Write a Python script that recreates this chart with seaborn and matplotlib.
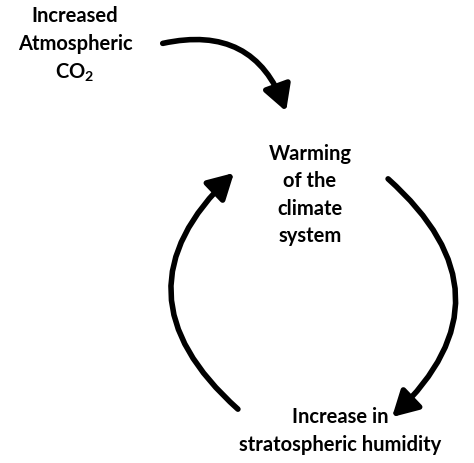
import matplotlib
matplotlib.use("Agg")
import matplotlib.pyplot as plt
import seaborn as sns
from matplotlib.patches import FancyArrowPatch

sns.set_theme(style="white")
plt.rcParams["font.family"] = ["Lato", "DejaVu Sans"]
plt.rcParams["mathtext.default"] = "regular"

# node labels and their anchor points (pixel space of the 474x464 canvas)
labels = ["Increased\nAtmospheric\nCO$_2$", "Warming\nof the\nclimate\nsystem", "Increase in\nstratospheric humidity"]
label_x = [75, 310, 340]
label_y = [45, 195, 431]

# arrows: start, end, curvature
arrow_start = [(160, 45), (386, 178), (240, 412)]
arrow_end = [(287, 115), (390, 420), (236, 172)]
arrow_rad = [-0.45, -0.55, -0.55]

fig = plt.figure(figsize=(4.74, 4.64), dpi=100)
ax = fig.add_axes([0, 0, 1, 1])
ax.set_xlim(0, 474)
ax.set_ylim(464, 0)
ax.axis("off")

for text, x, y in zip(labels, label_x, label_y):
    ax.text(x, y, text, ha="center", va="center", fontsize=14.5, fontweight="bold",
            linespacing=1.45, color="black")

for start, end, rad in zip(arrow_start, arrow_end, arrow_rad):
    ax.add_patch(FancyArrowPatch(start, end, connectionstyle=f"arc3,rad={rad}",
                                 arrowstyle="-|>,head_length=0.9,head_width=0.5",
                                 mutation_scale=17, lw=4, color="black"))

fig.savefig("out.png", dpi=100, facecolor="white")
